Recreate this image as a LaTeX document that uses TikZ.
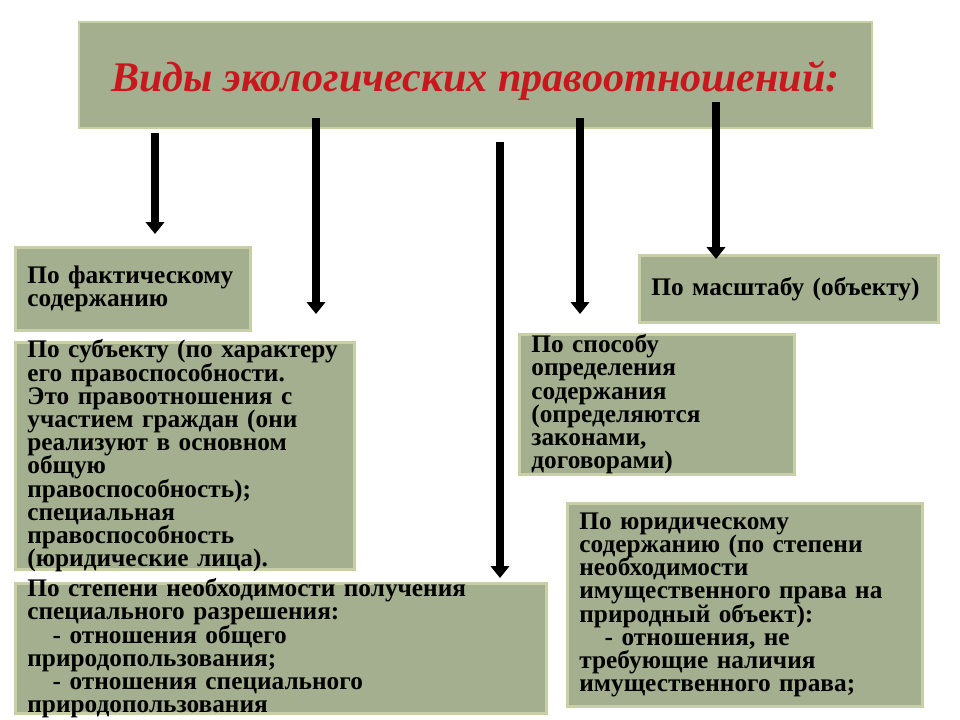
\documentclass[tikz,border=0pt]{standalone}
\usepackage{fontspec}
\setmainfont{Liberation Serif}
\usepackage{tikz}
\definecolor{sage}{RGB}{163, 175, 142}
\definecolor{sageedge}{RGB}{200, 207, 163}
\definecolor{titlered}{RGB}{200, 24, 30}
\usetikzlibrary{arrows.meta, positioning}

\begin{document}
\begin{tikzpicture}[
    x=0.025cm, y=-0.025cm,
    box/.style={draw=sageedge, line width=2pt, fill=sage, anchor=north west,
                inner xsep=12*0.025cm, inner ysep=-8pt, align=left,
                font=\fontsize{18}{16.5}\selectfont\bfseries,
                execute at begin node={\lineskiplimit=-20pt}},
    arrow/.style={line width=5pt, -{Triangle[width=13pt, length=8.5pt]}}
]
    \useasboundingbox (0,0) rectangle (960,720);

    % Title
    \node[draw=sageedge, line width=2pt, fill=sage, minimum width=793*0.025cm, minimum height=106*0.025cm,
          text height=24pt, text depth=0pt,
          font=\fontsize{30}{34}\selectfont\bfseries\itshape, text=titlered] (title) at (475.5,75)
          {Виды экологических правоотношений:};

    % Left column
    \node[box, text width=211*0.025cm, minimum height=83*0.025cm] (fact) at (14,246)
        {По фактическому\\содержанию};
    \node[box, text width=315*0.025cm, minimum height=227*0.025cm] (subj) at (14,341)
        {По субъекту (по характеру\\его правоспособности.\\Это правоотношения с\\участием граждан (они\\реализуют в основном\\общую\\правоспособность);\\специальная\\правоспособность\\(юридические лица).};
    \node[box, text width=507*0.025cm, minimum height=130*0.025cm] (permit) at (14,582)
        {По степени необходимости получения\\специального разрешения:\\\hspace*{18pt}- отношения общего\\природопользования;\\\hspace*{18pt}- отношения специального\\природопользования};

    % Right column
    \node[box, text width=275*0.025cm, minimum height=67*0.025cm] (scale) at (638,254)
        {По масштабу (объекту)};
    \node[box, text width=251*0.025cm, minimum height=140*0.025cm] (method) at (518,333)
        {По способу\\определения\\содержания\\(определяются\\законами,\\договорами)};
    \node[box, text width=331*0.025cm, minimum height=203*0.025cm] (legal) at (566,502)
        {По юридическому\\содержанию (по степени\\необходимости\\имущественного права на\\природный объект):\\\hspace*{18pt}- отношения, не\\требующие наличия\\имущественного права;};

    % Arrow ends
    \coordinate (s1) at (155,133);  \coordinate (e1) at (155,234);
    \coordinate (s2) at (316,118);  \coordinate (e2) at (316,314);
    \coordinate (s3) at (500,142);  \coordinate (e3) at (500,578);
    \coordinate (s4) at (580,118);  \coordinate (e4) at (580,314);
    \coordinate (s5) at (716,102);  \coordinate (e5) at (716,259);

    % Arrows
    \draw[arrow] (s1) -- (e1);
    \draw[arrow] (s2) -- (e2);
    \draw[arrow] (s3) -- (e3);
    \draw[arrow] (s4) -- (e4);
    \draw[arrow] (s5) -- (e5);
\end{tikzpicture}
\end{document}
